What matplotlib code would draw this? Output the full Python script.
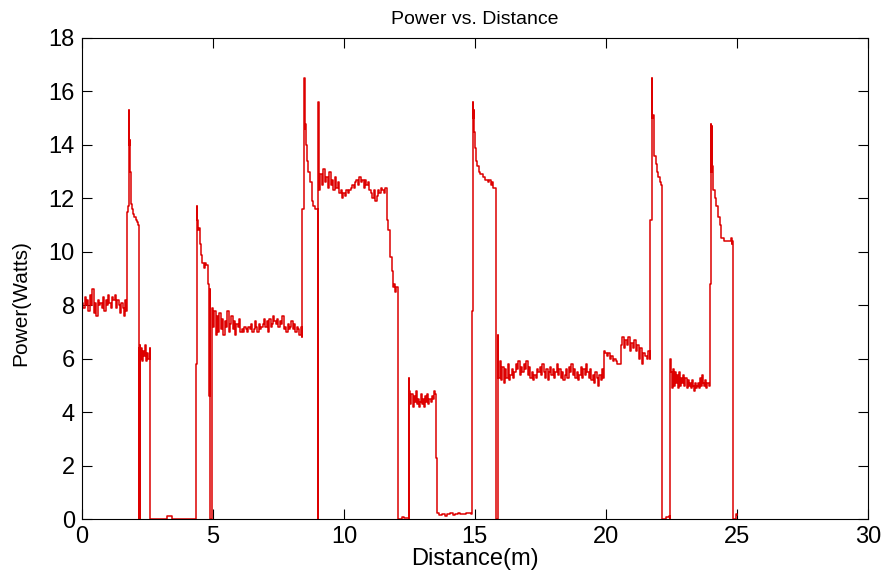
import numpy as np
import matplotlib
matplotlib.use("Agg")
import matplotlib.pyplot as plt

# ---- data (distance in m, power in W) ----
# noisy plateaus: (start, end) distance and sampled power values
base1_span = (0.00, 1.70)
base1_p = [8.1, 7.9, 8.3, 8.0, 8.2, 7.8, 8.4, 8.0, 8.6, 7.7, 8.1, 7.6, 8.2, 8.0, 8.1,
           7.9, 8.3, 7.8, 8.2, 8.0, 8.4, 8.1, 7.9, 8.3, 8.2, 8.4, 7.9, 8.2, 8.0, 7.7,
           8.1, 7.9, 7.6, 8.2, 7.8]

spike1_d = [1.71, 1.72, 1.76, 1.78, 1.80, 1.82, 1.84, 1.86, 1.88, 1.92, 1.96, 2.00,
            2.05, 2.10, 2.15, 2.16, 2.17, 2.18, 2.19, 2.20, 2.21]
spike1_p = [7.8, 11.5, 11.7, 15.3, 14.0, 14.2, 13.0, 12.2, 11.8, 11.6, 11.4, 11.3,
            11.2, 11.1, 11.0, 7.3, 7.1, 0.0, 6.4, 0.0, 6.5]

low6_span = (2.22, 2.58)
low6_p = [6.0, 6.4, 5.9, 6.3, 6.1, 6.5, 5.9, 6.2, 6.0, 6.4]

gap1_d = [2.60, 2.61, 3.22, 3.23, 3.42, 3.43, 4.34]
gap1_p = [6.2, 0.0, 0.0, 0.12, 0.12, 0.0, 0.0]

spike2_d = [4.35, 4.37, 4.38, 4.40, 4.42, 4.45, 4.50, 4.55, 4.60, 4.65, 4.70, 4.75,
            4.82, 4.83, 4.86, 4.88, 4.89, 4.94]
spike2_p = [5.8, 5.8, 11.7, 11.2, 10.8, 10.9, 10.3, 9.9, 9.6, 9.4, 9.6, 9.5,
            9.5, 8.8, 4.6, 8.6, 0.0, 0.0]

mid7_span = (4.95, 8.40)
mid7_p = [7.9, 7.2, 7.8, 6.9, 7.6, 7.0, 7.7, 7.1, 7.5, 6.9, 7.4, 7.2, 7.8, 7.0, 7.3,
          7.6, 7.1, 7.4, 6.9, 7.3, 7.2, 7.5, 7.0, 7.1, 7.0, 7.2, 7.1, 7.0, 7.2, 7.1,
          7.3, 7.0, 7.1, 7.4, 7.2, 7.0, 7.3, 7.1, 7.2, 7.3, 7.5, 7.2, 7.4, 7.0, 7.5,
          7.2, 7.3, 7.6, 7.4, 7.3, 7.5, 7.2, 7.4, 7.3, 7.6, 7.1, 7.2, 7.0, 7.3, 7.1,
          7.2, 7.4, 7.1, 7.3, 7.0, 7.2, 7.1, 6.9, 7.2, 6.8]

spike3_d = [8.41, 8.42, 8.47, 8.49, 8.51, 8.53, 8.55, 8.58, 8.64, 8.70, 8.77, 8.82,
            8.88, 8.94, 9.00, 9.01, 9.02, 9.04]
spike3_p = [6.8, 11.6, 11.6, 16.5, 14.6, 14.8, 14.0, 13.4, 13.0, 12.6, 11.9, 11.7,
            11.6, 11.6, 11.5, 0.0, 15.6, 12.3]

high12_span = (9.05, 11.63)
high12_p = [12.3, 12.9, 12.5, 13.1, 12.6, 12.8, 12.4, 13.0, 12.5, 12.7, 12.3, 12.8,
            12.4, 12.6, 12.2, 12.3, 12.0, 12.2, 12.1, 12.3, 12.2, 12.3, 12.4, 12.5,
            12.4, 12.6, 12.7, 12.5, 12.8, 12.6, 12.7, 12.4, 12.7, 12.5, 12.6, 12.3,
            12.2, 12.0, 12.3, 11.9, 12.1, 12.3, 12.2, 12.4, 12.3, 12.2, 12.4, 12.3]

drop1_d = [11.65, 11.70, 11.76, 11.82, 11.88, 11.92, 11.96, 12.00, 12.05, 12.07,
           12.08, 12.20, 12.30, 12.47, 12.48, 12.49]
drop1_p = [11.2, 10.8, 9.8, 9.3, 8.7, 8.8, 8.5, 8.7, 8.5, 8.6,
           0.0, 0.1, 0.05, 0.1, 0.0, 5.3]

low4_span = (12.50, 13.47)
low4_p = [4.8, 4.3, 4.7, 4.2, 4.6, 4.4, 4.8, 4.3, 4.5, 4.2, 4.4, 4.7, 4.3, 4.5,
          4.2, 4.6, 4.4, 4.7, 4.3, 4.5, 4.4, 4.6, 4.5, 4.8, 4.7]

gap2_d = [13.49, 13.50, 13.53, 13.54, 13.65, 13.75, 13.85, 13.95, 14.05, 14.15,
          14.25, 14.35, 14.45, 14.55, 14.65, 14.75, 14.87]
gap2_p = [4.7, 2.3, 2.3, 0.22, 0.15, 0.2, 0.12, 0.18, 0.25, 0.15, 0.2, 0.22,
          0.18, 0.2, 0.25, 0.22, 0.2]

spike4_d = [14.88, 14.90, 14.91, 14.93, 14.95, 14.97, 15.00, 15.05, 15.10, 15.15,
            15.20, 15.30, 15.40, 15.50, 15.55, 15.60, 15.65, 15.70, 15.80, 15.82,
            15.87, 15.88]
spike4_p = [7.8, 7.8, 15.6, 15.0, 15.3, 14.5, 13.9, 13.4, 13.2, 13.0,
            12.9, 12.8, 12.7, 12.6, 12.7, 12.5, 12.6, 12.4, 12.4, 0.0,
            0.0, 6.9]

mid5_span = (15.90, 19.90)
mid5_p = [5.3, 5.9, 5.2, 5.7, 5.1, 5.6, 5.3, 5.8, 5.2, 5.4, 5.6, 5.3, 5.5, 5.8, 5.6,
          5.9, 5.4, 5.7, 5.5, 5.8, 5.6, 5.9, 5.4, 5.7, 5.3, 5.5, 5.2, 5.4, 5.3, 5.6,
          5.5, 5.7, 5.4, 5.8, 5.5, 5.3, 5.6, 5.2, 5.5, 5.7, 5.4, 5.6, 5.3, 5.5, 5.8,
          5.4, 5.6, 5.3, 5.5, 5.2, 5.4, 5.6, 5.3, 5.7, 5.5, 5.8, 5.4, 5.6, 5.3, 5.5,
          5.2, 5.4, 5.7, 5.3, 5.6, 5.4, 5.8, 5.5, 5.3, 5.6, 5.2, 5.4, 5.1, 5.5, 5.3,
          5.0, 5.4, 5.2, 5.6, 5.3]

mid6_span = (19.92, 21.67)
mid6_p = [6.3, 6.2, 6.1, 6.2, 6.0, 6.1, 5.9, 6.0, 5.9, 5.8, 5.8, 6.5, 6.8, 6.4,
          6.7, 6.5, 6.8, 6.3, 6.6, 6.4, 6.7, 6.3, 6.5, 6.0, 6.4, 5.8, 6.2, 6.1,
          6.0, 6.3, 6.0]

spike5_d = [21.68, 21.69, 21.72, 21.75, 21.77, 21.79, 21.82, 21.85, 21.90, 21.95,
            22.00, 22.06, 22.12, 22.13, 22.30, 22.43, 22.45, 22.46]
spike5_p = [6.0, 11.2, 11.2, 16.5, 15.0, 15.1, 14.0, 13.6, 13.3, 13.0,
            12.8, 12.6, 12.5, 0.0, 0.1, 0.12, 0.0, 6.0]

low5_span = (22.48, 23.96)
low5_p = [5.5, 4.9, 5.6, 5.0, 5.5, 5.1, 5.4, 4.9, 5.5, 5.0, 5.3, 5.1, 5.4, 5.0,
          5.3, 4.9, 5.2, 5.0, 5.1, 4.9, 5.2, 5.0, 4.8, 5.1, 4.9, 5.0, 5.1, 4.9,
          5.3, 5.0, 5.4, 5.1, 5.0, 5.2, 4.9, 5.1, 5.0, 5.2]

spike6_d = [23.97, 23.98, 24.00, 24.01, 24.03, 24.05, 24.07, 24.10, 24.15, 24.22,
            24.28, 24.35, 24.40, 24.50, 24.60, 24.70, 24.78, 24.80, 24.83, 24.84,
            24.96, 24.97, 25.00]
spike6_p = [5.0, 8.8, 8.8, 14.8, 13.0, 14.7, 13.2, 12.3, 12.0, 11.7,
            11.3, 11.0, 10.5, 10.4, 10.4, 10.4, 10.5, 10.3, 10.4, 0.0,
            0.0, 0.2, 0.15]

x_ticks = [0, 5, 10, 15, 20, 25, 30]
y_ticks = [0, 2, 4, 6, 8, 10, 12, 14, 16, 18]


def plateau(span, vals):
    return list(np.linspace(span[0], span[1], len(vals))), list(vals)


pieces = [
    plateau(base1_span, base1_p),
    (spike1_d, spike1_p),
    plateau(low6_span, low6_p),
    (gap1_d, gap1_p),
    (spike2_d, spike2_p),
    plateau(mid7_span, mid7_p),
    (spike3_d, spike3_p),
    plateau(high12_span, high12_p),
    (drop1_d, drop1_p),
    plateau(low4_span, low4_p),
    (gap2_d, gap2_p),
    (spike4_d, spike4_p),
    plateau(mid5_span, mid5_p),
    plateau(mid6_span, mid6_p),
    (spike5_d, spike5_p),
    plateau(low5_span, low5_p),
    (spike6_d, spike6_p),
]
distance = []
power = []
for d, p in pieces:
    distance += list(d)
    power += list(p)

plt.rcParams['font.family'] = ['Liberation Sans', 'DejaVu Sans']

fig = plt.figure(figsize=(8.81, 5.75), dpi=100)
ax = fig.add_axes([0.093, 0.097, 0.892, 0.837])
ax.plot(distance, power, color='#dd0000', linewidth=1.1, drawstyle='steps-post')
ax.set_xlim(0, 30)
ax.set_ylim(0, 18)
ax.set_xticks(x_ticks)
ax.set_yticks(y_ticks)
ax.tick_params(direction='in', top=True, right=True, length=7, width=0.8,
               labelsize=17, pad=5)
for s in ax.spines.values():
    s.set_linewidth(0.8)
ax.set_title('Power vs. Distance', fontsize=14, pad=10)
ax.set_xlabel('Distance(m)', fontsize=17, labelpad=0)
ax.set_ylabel('Power(Watts)', fontsize=15)
ax.yaxis.set_label_coords(-0.066, 0.45)
fig.savefig('out.png', dpi=100)
